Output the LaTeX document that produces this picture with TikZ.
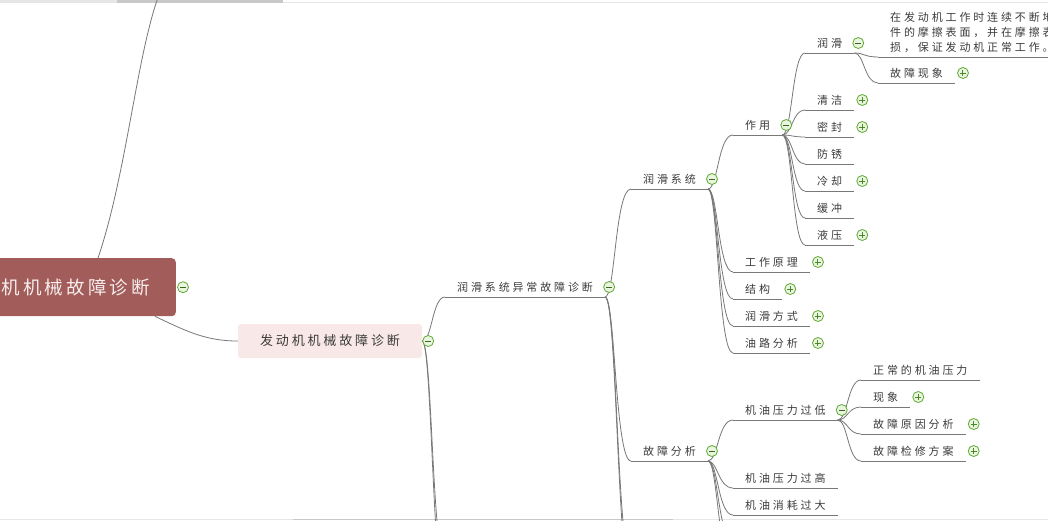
\documentclass[tikz,border=0pt]{standalone}
\usepackage{fontspec}
\newfontfamily\cjk[LetterSpace=26]{Noto Sans CJK SC}
\newfontfamily\cjkmid[LetterSpace=22]{Noto Sans CJK SC}
\newfontfamily\cjkbig[LetterSpace=17]{Noto Sans CJK SC}
\definecolor{rootred}{RGB}{162,92,89}
\definecolor{roottxt}{RGB}{246,238,238}
\definecolor{engpink}{RGB}{249,232,232}
\definecolor{txt}{RGB}{60,60,60}
\definecolor{lineg}{RGB}{120,120,120}
\definecolor{mkgreen}{RGB}{96,170,50}
\definecolor{mkfill}{RGB}{234,245,225}
\definecolor{barlight}{RGB}{230,230,230}
\definecolor{bardark}{RGB}{200,200,200}
\tikzset{
  conn/.style={draw=lineg, line width=0.8pt},
  twig/.style={to path={.. controls ([xshift=#1]\tikztostart) and ([xshift=#1]\tikztostart |- \tikztotarget) .. (\tikztotarget)}},
  twig/.default=10pt,
  topic/.style={anchor=south west, inner xsep=12pt, inner ysep=4pt, text=txt,
    font=\cjk\fontsize{11pt}{15pt}\selectfont},
  rootbox/.style={fill=rootred, rounded corners=4pt, minimum width=200pt, minimum height=58pt,
    text=roottxt, font=\cjkbig\fontsize{18.5pt}{20pt}\selectfont},
  engbox/.style={fill=engpink, rounded corners=3pt, minimum width=184pt, minimum height=34pt,
    text=txt, font=\cjkmid\fontsize{13pt}{15pt}\selectfont},
  minusmark/.style={circle, draw=mkgreen, fill=mkfill, line width=0.8pt, minimum size=11pt, inner sep=0pt,
    path picture={\draw[mkgreen!60!black, line width=1pt] ([xshift=-2.8pt]path picture bounding box.center) -- ([xshift=2.8pt]path picture bounding box.center);}},
  plusmark/.style={minusmark,
    path picture={\draw[mkgreen!80!black, line width=1pt] ([xshift=-2.8pt]path picture bounding box.center) -- ([xshift=2.8pt]path picture bounding box.center)
      ([yshift=-2.8pt]path picture bounding box.center) -- ([yshift=2.8pt]path picture bounding box.center);}},
  uline/.style={draw=lineg, line width=0.8pt}
}
\begin{document}
\begin{tikzpicture}[x=1pt, y=-1pt]
  \useasboundingbox (0,0) rectangle (1048,520);
  \clip (0,0) rectangle (1048,520);
  \fill[white] (0,0) rectangle (1048,520);
  \fill[barlight] (0,0) rectangle (117,2.5);
  \fill[bardark] (117,0) rectangle (283,2.5);
  \draw[barlight, line width=0.8pt] (283,2) -- (1048,2);
  \fill[barlight] (0,518.5) rectangle (1048,520);
  \fill[bardark] (293,518.5) rectangle (673,520);

  \node[rootbox, anchor=north east] (root) at (176,258) {机机械故障诊断};
  \node[engbox] (eng) at (330,341) {发动机机械故障诊断};

  \node[topic] (lubdiag)   at (445,297) {润滑系统异常故障诊断};
  \node[topic] (lubsys)    at (631,189) {润滑系统};
  \node[topic] (fault)     at (631,461) {故障分析};

  \node[topic] (func)      at (733,135) {作用};
  \node[topic] (principle) at (733,272) {工作原理};
  \node[topic] (struct)    at (733,299) {结构};
  \node[topic] (mode)      at (733,326) {润滑方式};
  \node[topic] (oilpath)   at (733,353) {油路分析};

  \node[topic] (lub)       at (805,53)  {润滑};
  \node[topic] (clean)     at (805,110) {清洁};
  \node[topic] (seal)      at (805,137) {密封};
  \node[topic] (rust)      at (805,164) {防锈};
  \node[topic] (cool)      at (805,191) {冷却};
  \node[topic] (buffer)    at (805,218) {缓冲};
  \node[topic] (hydr)      at (805,245) {液压};

  \node[topic, align=left] (desc) at (878,57) {在发动机工作时连续不断地\\件的摩擦表面，并在摩擦表\\损，保证发动机正常工作。};
  \node[topic] (symptom)   at (878,83)  {故障现象};

  \node[topic] (lowp)      at (733,420) {机油压力过低};
  \node[topic] (highp)     at (733,488) {机油压力过高};
  \node[topic] (consume)   at (733,515) {机油消耗过大};

  \node[topic] (normal)    at (861,380) {正常的机油压力};
  \node[topic] (phen)      at (861,407) {现象};
  \node[topic] (cause)     at (861,434) {故障原因分析};
  \node[topic] (repair)    at (861,461) {故障检修方案};

  \coordinate (rootup) at (163,-15);
  \coordinate (engdown1) at (445,560);
  \coordinate (engdown2) at (447,600);
  \coordinate (diagdown1) at (631,560);
  \coordinate (diagdown2) at (633,590);
  \coordinate (faultdown1) at (733,540);
  \coordinate (faultdown2) at (735,570);

  \foreach \n in {lubdiag,lubsys,fault,func,principle,struct,mode,oilpath,lub,clean,seal,rust,cool,buffer,hydr,desc,symptom,lowp,highp,consume,normal,phen,cause,repair}
    \draw[uline] (\n.south west) -- (\n.south east);

  \draw[conn] ([xshift=-78pt]root.north east) .. controls +(30,-88) and +(-25,55) .. (rootup);
  \draw[conn] ([xshift=-21pt]root.south east) .. controls +(30,14) and +(-33,0) .. (eng.west);

  \draw[conn] (eng.east) to[twig] (lubdiag.south west);
  \draw[conn] (eng.east) to[twig] (engdown1);
  \draw[conn] (eng.east) to[twig] (engdown2);
  \draw[conn] (lubdiag.south east) to[twig=12pt] (diagdown1);
  \draw[conn] (lubdiag.south east) to[twig=12pt] (diagdown2);
  \draw[conn] (fault.south east) to[twig] (faultdown1);
  \draw[conn] (fault.south east) to[twig] (faultdown2);

  \foreach \a/\b in {lubdiag/lubsys, lubdiag/fault,
      lubsys/func, lubsys/principle, lubsys/struct, lubsys/mode, lubsys/oilpath,
      func/lub, func/clean, func/seal, func/rust, func/cool, func/buffer, func/hydr,
      lub/desc, lub/symptom,
      fault/lowp, fault/highp, fault/consume,
      lowp/normal, lowp/phen, lowp/cause, lowp/repair}
    \draw[conn] (\a.south east) to[twig] (\b.south west);

  \node[minusmark] (root-m) at ([xshift=7pt]root.east) {};
  \node[minusmark] (eng-m) at ([xshift=6pt]eng.east) {};
  \foreach \n in {lubdiag,lubsys,fault,func,lub,lowp}
    \node[minusmark] (\n-m) at ([shift={(4,-10)}]\n.south east) {};
  \foreach \n in {symptom,clean,seal,cool,hydr,principle,struct,mode,oilpath,phen,cause,repair}
    \node[plusmark] (\n-p) at ([shift={(8,-10)}]\n.south east) {};
\end{tikzpicture}
\end{document}
